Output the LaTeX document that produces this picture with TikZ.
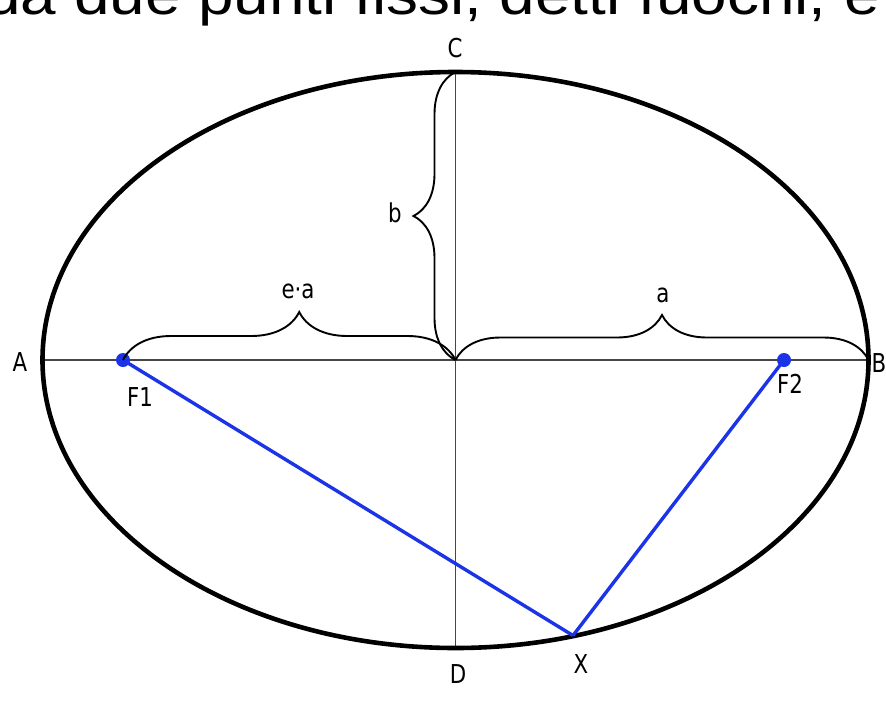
\documentclass[tikz,border=0pt]{standalone}
\usepackage{fontspec}
\setmainfont{DejaVu Sans}[FakeStretch=0.82]
\newfontfamily\titlefont{Liberation Sans}
\usetikzlibrary{decorations.pathreplacing}
\definecolor{focblue}{RGB}{28,52,232}
\definecolor{axisgray}{RGB}{70,70,70}
\begin{document}
\begin{tikzpicture}[x=1pt,y=-1pt,
  lbl/.style={font=\fontsize{26}{30}\selectfont, inner sep=0pt, anchor=base},
  axisline/.style={draw=axisgray, line width=1.8pt},
  focline/.style={draw=focblue, line width=3.4pt},
  focdot/.style={circle, fill=focblue, minimum size=14pt, inner sep=0pt},
  bracestyle/.style={decorate, line width=1.9pt, draw=black}
]
\useasboundingbox (0,0) rectangle (886,702);
% key points
\coordinate (O) at (455.5,360);
\coordinate (A) at (42.5,360);
\coordinate (B) at (868.5,360);
\coordinate (C) at (455.5,72);
\coordinate (D) at (455.5,648);
\coordinate (X) at (573,635.5);
% title (cut at top)
\node[anchor=base east, font=\titlefont\fontsize{56}{60}\selectfont, inner sep=0pt] (title) at (880,14)
  {\scalebox{1.14}[1]{da due punti fissi, detti fuochi, e}};
% axes
\draw[axisline] (A) -- (B);
\draw[axisline] (C) -- (D);
% ellipse
\draw[line width=4.6pt] (O) ellipse [x radius=413pt, y radius=288pt];
% foci
\node[focdot] (F1) at (123,360) {};
\node[focdot] (F2) at (784,360) {};
\draw[focline] (F1.center) -- (X);
\draw[focline] (F2.center) -- (X);
% braces
\draw[bracestyle, decoration={brace, amplitude=48pt, aspect=0.53}] (F1.center) -- (O);
\draw[bracestyle, decoration={brace, amplitude=45pt}] (O) -- (B);
\draw[bracestyle, decoration={brace, amplitude=42pt}] (O) -- (C);
% labels
\node[lbl] (lA) at (20,371) {A};
\node[lbl] (lB) at (879,372) {B};
\node[lbl] (lC) at (455,57) {C};
\node[lbl] (lD) at (458,683) {D};
\node[lbl] (lX) at (581,673) {X};
\node[lbl] (lF1) at (140,406) {F1};
\node[lbl] (lF2) at (790,393) {F2};
\node[lbl] (lb) at (395,222) {b};
\node[lbl] (lea) at (298,298) {e·a};
\node[lbl] (la) at (663,302) {a};
\end{tikzpicture}
\end{document}
